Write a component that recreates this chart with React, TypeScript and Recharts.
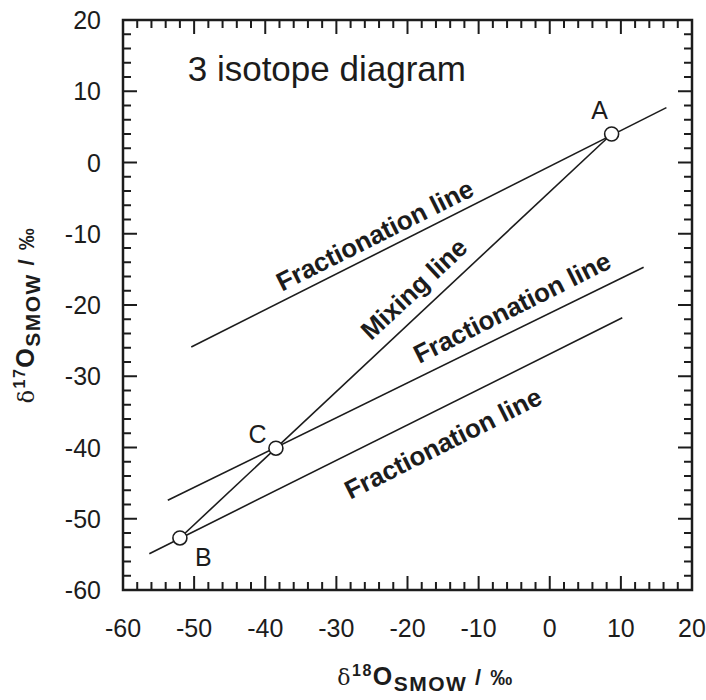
import React from 'react';
import { ComposedChart, XAxis, YAxis, Line, Scatter, ReferenceArea } from 'recharts';

// End members and mixture (δ18O, δ17O in ‰)
const POINT_NAMES = ['A', 'B', 'C'];
const POINT_D18O = [8.7, -52.0, -38.5];
const POINT_D17O = [4.0, -52.7, -40.1];

// Fractionation lines (end points)
const FRAC_UPPER_X = [-50.4, 16.4];
const FRAC_UPPER_Y = [-25.9, 7.7];
const FRAC_MIDDLE_X = [-53.7, 13.2];
const FRAC_MIDDLE_Y = [-47.4, -14.7];
const FRAC_LOWER_X = [-56.3, 10.2];
const FRAC_LOWER_Y = [-54.9, -21.8];

// Mixing line B -> A
const MIXING_X = [-52.0, 8.7];
const MIXING_Y = [-52.7, 4.0];

const MAJOR_TICKS = [-60, -50, -40, -30, -20, -10, 0, 10, 20];
const ALL_TICKS = [
  -60, -58, -56, -54, -52, -50, -48, -46, -44, -42, -40, -38, -36, -34, -32, -30,
  -28, -26, -24, -22, -20, -18, -16, -14, -12, -10, -8, -6, -4, -2, 0,
  2, 4, 6, 8, 10, 12, 14, 16, 18, 20,
];

// text placed in data units
const NOTES = [
  { text: '3 isotope diagram', x: -50.9, y: 11.45, angle: 0, size: 35, bold: false, anchor: 'start' },
  { text: 'Fractionation line', x: -24.6, y: -10.2, angle: -26.6, size: 26, bold: true, anchor: 'middle' },
  { text: 'Mixing line', x: -19.1, y: -17.75, angle: -43, size: 26, bold: true, anchor: 'middle' },
  { text: 'Fractionation line', x: -5.3, y: -20.35, angle: -26.6, size: 26, bold: true, anchor: 'middle' },
  { text: 'Fractionation line', x: -15.0, y: -39.4, angle: -26.6, size: 26, bold: true, anchor: 'middle' },
  { text: 'A', x: 7.0, y: 7.4, angle: 0, size: 25, bold: false, anchor: 'middle' },
  { text: 'B', x: -48.7, y: -55.4, angle: 0, size: 25, bold: false, anchor: 'middle' },
  { text: 'C', x: -41.1, y: -38.1, angle: 0, size: 25, bold: false, anchor: 'middle' },
];

const FONT = "'Liberation Sans', Arial, Helvetica, sans-serif";
const INK = '#1c1c1c';
const PLOT_W = 569;
const PLOT_H = 570;

const zip = (xs: number[], ys: number[]) => xs.map((x, i) => ({ x, y: ys[i] }));
const points = POINT_NAMES.map((name, i) => ({ name, x: POINT_D18O[i], y: POINT_D17O[i] }));

const XTick = (props: any) => {
  const { x, y, payload } = props;
  const major = MAJOR_TICKS.includes(payload.value);
  const len = major ? 14 : 8;
  return (
    <g>
      <line x1={x} x2={x} y1={y} y2={y - len} stroke={INK} strokeWidth={2} />
      <line x1={x} x2={x} y1={y - PLOT_H} y2={y - PLOT_H + len} stroke={INK} strokeWidth={2} />
      {major && (
        <text x={x} y={y + 47} textAnchor="middle" fontSize={25} fontFamily={FONT} fill={INK}>
          {payload.value}
        </text>
      )}
    </g>
  );
};

const YTick = (props: any) => {
  const { x, y, payload } = props;
  const major = MAJOR_TICKS.includes(payload.value);
  const len = major ? 14 : 8;
  return (
    <g>
      <line x1={x} x2={x + len} y1={y} y2={y} stroke={INK} strokeWidth={2} />
      <line x1={x + PLOT_W} x2={x + PLOT_W - len} y1={y} y2={y} stroke={INK} strokeWidth={2} />
      {major && (
        <text x={x - 22} y={y + 9} textAnchor="end" fontSize={25} fontFamily={FONT} fill={INK}>
          {payload.value}
        </text>
      )}
    </g>
  );
};

// δ¹⁸O_SMOW / ‰ style title, shared by both axes
const AxisTitle = ({ x, y, mass, rotate }: { x: number; y: number; mass: string; rotate?: boolean }) => (
  <text
    x={x}
    y={y}
    transform={rotate ? `rotate(-90, ${x}, ${y})` : undefined}
    textAnchor="middle"
    fontFamily={FONT}
    fontWeight="bold"
    fontSize={22}
    letterSpacing={1.5}
    fill={INK}
  >
    <tspan fontFamily="'DejaVu Serif', serif" fontWeight="normal" fontSize={22}>δ</tspan>
    <tspan fontSize={16} dy={-9}>{mass}</tspan>
    <tspan fontSize={25} dy={9}>O</tspan>
    <tspan fontSize={21} dy={6}>SMOW</tspan>
    <tspan dy={-6}> / ‰</tspan>
  </text>
);

const XTitle = (props: any) => {
  const vb = props.viewBox;
  return <AxisTitle x={vb.x + vb.width / 2 + 18} y={vb.y + 95} mass="18" />;
};

const YTitle = (props: any) => {
  const vb = props.viewBox;
  return <AxisTitle x={34} y={vb.y + vb.height / 2 + 10} mass="17" rotate />;
};

const NoteShape = (props: any) => {
  const { cx, cy, payload } = props;
  return (
    <text
      x={cx}
      y={cy}
      transform={payload.angle ? `rotate(${payload.angle}, ${cx}, ${cy})` : undefined}
      textAnchor={payload.anchor}
      dominantBaseline={payload.anchor === 'start' ? 'alphabetic' : 'central'}
      fontFamily={FONT}
      fontWeight={payload.bold ? 'bold' : 'normal'}
      fontSize={payload.size}
      fill={INK}
    >
      {payload.text}
    </text>
  );
};

const PointShape = (props: any) => (
  <circle cx={props.cx} cy={props.cy} r={7} fill="#fff" stroke={INK} strokeWidth={1.6} />
);

const App: React.FC = () => {
  return (
    <div style={{ position: 'absolute', left: 0, top: 0, width: 706, height: 700, background: '#fff' }}>
      <ComposedChart width={706} height={700} margin={{ top: 20, right: 14, bottom: 0, left: 0 }}>
        <XAxis
          type="number"
          dataKey="x"
          domain={[-60, 20]}
          ticks={ALL_TICKS}
          interval={0}
          allowDataOverflow
          height={110}
          axisLine={false}
          tickLine={false}
          tickSize={0}
          tickMargin={0}
          tick={(p: any) => <XTick {...p} />}
          label={(p: any) => <XTitle {...p} />}
        />
        <YAxis
          type="number"
          dataKey="y"
          domain={[-60, 20]}
          ticks={ALL_TICKS}
          interval={0}
          allowDataOverflow
          width={123}
          axisLine={false}
          tickLine={false}
          tickSize={0}
          tickMargin={0}
          tick={(p: any) => <YTick {...p} />}
          label={(p: any) => <YTitle {...p} />}
        />
        <ReferenceArea x1={-60} x2={20} y1={-60} y2={20} fill="none" fillOpacity={0} stroke={INK} strokeWidth={2.5} />
        <Line data={zip(FRAC_UPPER_X, FRAC_UPPER_Y)} dataKey="y" stroke={INK} strokeWidth={1.6} dot={false} isAnimationActive={false} />
        <Line data={zip(FRAC_MIDDLE_X, FRAC_MIDDLE_Y)} dataKey="y" stroke={INK} strokeWidth={1.6} dot={false} isAnimationActive={false} />
        <Line data={zip(FRAC_LOWER_X, FRAC_LOWER_Y)} dataKey="y" stroke={INK} strokeWidth={1.6} dot={false} isAnimationActive={false} />
        <Line data={zip(MIXING_X, MIXING_Y)} dataKey="y" stroke={INK} strokeWidth={1.6} dot={false} isAnimationActive={false} />
        <Scatter data={points} dataKey="y" shape={(p: any) => <PointShape {...p} />} isAnimationActive={false} />
        <Scatter data={NOTES} dataKey="y" shape={(p: any) => <NoteShape {...p} />} isAnimationActive={false} />
      </ComposedChart>
    </div>
  );
};

export default App;
